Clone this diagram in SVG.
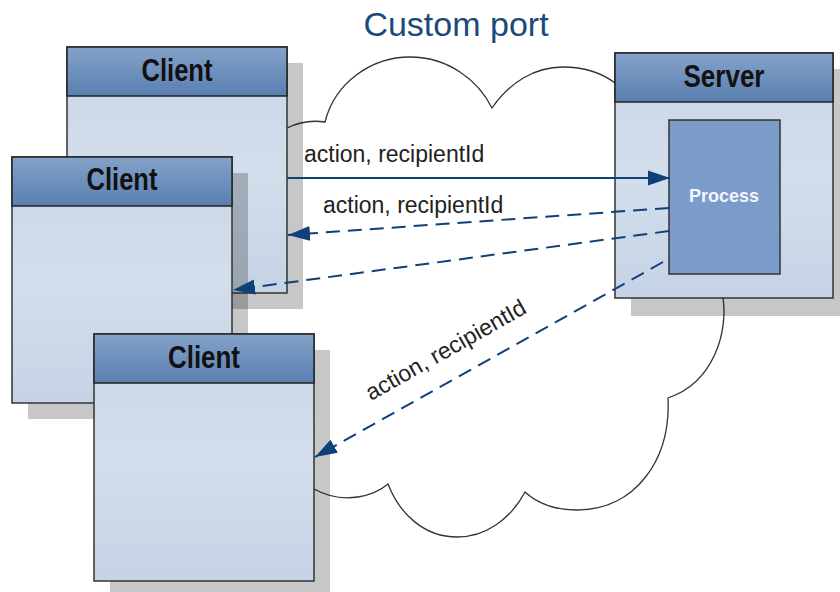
<svg xmlns="http://www.w3.org/2000/svg" width="840" height="592" viewBox="0 0 840 592">
<defs>
<linearGradient id="hdr" x1="0" y1="0" x2="0" y2="1">
<stop offset="0" stop-color="#84a2c9"/>
<stop offset="1" stop-color="#5a7fb0"/>
</linearGradient>
<linearGradient id="body" x1="0" y1="0" x2="0" y2="1">
<stop offset="0" stop-color="#c9d6e7"/>
<stop offset="0.5" stop-color="#d3deec"/>
<stop offset="1" stop-color="#c5d3e5"/>
</linearGradient>
<marker id="arr" markerUnits="userSpaceOnUse" markerWidth="23" markerHeight="16" refX="22" refY="8" orient="auto">
<path d="M0,0.5 L22,8 L0,15.5 Z" fill="#0f4079"/>
</marker>
</defs>
<style>
.shadow{fill:#000;fill-opacity:0.22}
.body{fill:url(#body);stroke:#333;stroke-width:1.5}
.hdr{fill:url(#hdr);stroke:#222;stroke-width:1.5}
.title{font-family:"Liberation Sans",Arial,sans-serif;font-weight:bold;font-size:31px;fill:#111;text-anchor:middle}
.lbl{font-family:"Liberation Sans",Arial,sans-serif;font-size:23px;fill:#222}
.cloud{fill:none;stroke:#333;stroke-width:1.3}
.conn{fill:none;stroke:#0f4079;stroke-width:2}
.dash{stroke-dasharray:14 8}
</style>
<rect width="840" height="592" fill="#fff"/>
<text x="456" y="36" font-family="'Liberation Sans',Arial,sans-serif" font-size="34" fill="#1a4a7a" text-anchor="middle">Custom port</text>
<g id="cloud">
<path class="cloud" d="M287,128 Q305,119 325,122 C335,82 372,57 410,57 C448,57 478,80 492,108 C510,82 535,67 563,67 C585,67 603,74 615,83"/>
<path class="cloud" d="M723,298 C728,330 715,382 668,398 C671,460 635,510 577,510 C555,510 537,503 525,492 C510,520 485,537 457,537 C425,537 400,515 388,484 C375,495 345,506 314,489"/>
</g>
<g id="client1">
<rect class="shadow" x="83" y="63" width="220" height="246"/>
<rect class="body" x="67" y="47" width="220" height="246"/>
<rect class="hdr" x="67" y="47" width="220" height="49"/>
<text class="title" x="177" y="81" textLength="71" lengthAdjust="spacingAndGlyphs">Client</text>
</g>
<g id="client2">
<rect class="shadow" x="28" y="173" width="220" height="246"/>
<rect class="body" x="12" y="157" width="220" height="246"/>
<rect class="hdr" x="12" y="157" width="220" height="49"/>
<text class="title" x="122" y="190" textLength="71" lengthAdjust="spacingAndGlyphs">Client</text>
</g>
<g id="client3">
<rect class="shadow" x="110" y="350" width="220" height="247"/>
<rect class="body" x="94" y="334" width="220" height="247"/>
<rect class="hdr" x="94" y="334" width="220" height="49"/>
<text class="title" x="204" y="368" textLength="72" lengthAdjust="spacingAndGlyphs">Client</text>
</g>
<g id="server">
<rect class="shadow" x="631" y="69" width="218" height="247"/>
<rect class="body" x="615" y="53" width="218" height="245"/>
<rect class="hdr" x="615" y="53" width="218" height="49"/>
<text class="title" x="724" y="87" textLength="81" lengthAdjust="spacingAndGlyphs">Server</text>
</g>
<g id="process">
<rect x="669" y="120" width="111" height="154" fill="#7b9bcb" stroke="#333" stroke-width="1.5"/>
<text x="724" y="202" font-family="'Liberation Sans',Arial,sans-serif" font-weight="bold" font-size="18" fill="#f2f5fa" text-anchor="middle">Process</text>
</g>
<g id="connectors">
<path class="conn" d="M287,178 L670,178" marker-end="url(#arr)"/>
<path class="conn dash" d="M669,208 L288,235" marker-end="url(#arr)"/>
<path class="conn dash" d="M669,231 L233,290" marker-end="url(#arr)"/>
<path class="conn dash" d="M663,262 L315,457" marker-end="url(#arr)"/>
<text class="lbl" x="304" y="162">action, recipientId</text>
<text class="lbl" x="323" y="213">action, recipientId</text>
<text class="lbl" x="371" y="401" transform="rotate(-29.5 371 401)">action, recipientId</text>
</g>
</svg>
